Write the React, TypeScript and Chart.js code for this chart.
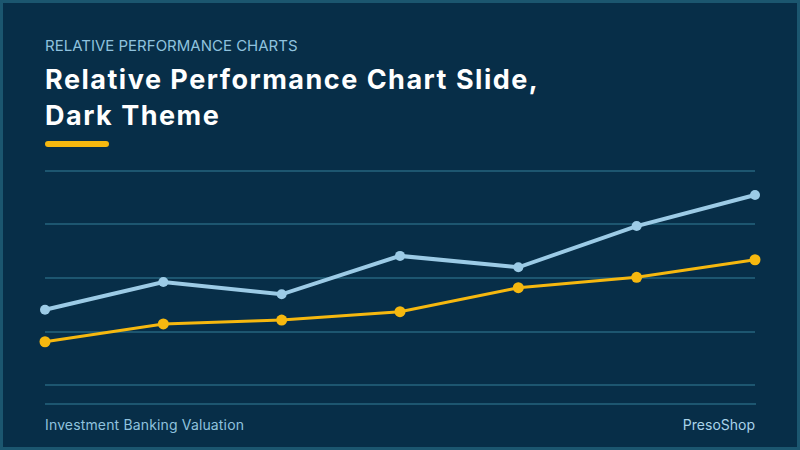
import React, { useEffect, useRef } from "react";
import { Chart, registerables } from "chart.js";

Chart.register(...registerables);

const categories = ["P1", "P2", "P3", "P4", "P5", "P6", "P7"];
const seriesA = [35.2, 48.1, 42.4, 60.3, 55.0, 74.2, 88.7];
const seriesB = [20.3, 28.6, 30.4, 34.3, 45.5, 50.3, 58.5];
const yTicks = [0, 25, 50, 75, 100];

const BG = "#072e48";
const BORDER = "#1b566f";
const GRID = "#1d5670";
const BLUE = "#9ccbe6";
const YELLOW = "#f6b80f";
const FONT = "Inter, 'Open Sans', sans-serif";

export default function App() {
  const ref = useRef<HTMLCanvasElement>(null);
  useEffect(() => {
    if (!ref.current) return;
    const chart = new Chart(ref.current, {
      type: "line",
      data: {
        labels: categories,
        datasets: [
          {
            data: seriesA,
            borderColor: BLUE,
            backgroundColor: BLUE,
            borderWidth: 4,
            pointRadius: 5,
            pointBorderWidth: 0,
            pointHoverRadius: 5,
            tension: 0,
            clip: false as any,
          },
          {
            data: seriesB,
            borderColor: YELLOW,
            backgroundColor: YELLOW,
            borderWidth: 3,
            pointRadius: 5.5,
            pointBorderWidth: 0,
            tension: 0,
            clip: false as any,
          },
        ],
      },
      options: {
        responsive: false,
        animation: false,
        maintainAspectRatio: false,
        layout: { padding: { left: 8, right: 8, top: 10.7, bottom: 14.7 } },
        plugins: { legend: { display: false }, tooltip: { enabled: false } },
        scales: {
          x: { display: false, offset: false },
          y: {
            min: yTicks[0],
            max: yTicks[yTicks.length - 1],
            afterBuildTicks: (axis: any) => {
              axis.ticks = yTicks.map((v) => ({ value: v }));
            },
            ticks: { display: false },
            border: { display: false },
            grid: { color: GRID, lineWidth: 2, drawTicks: false },
          },
        },
      },
    });
    return () => chart.destroy();
  }, []);

  return (
    <div
      style={{
        position: "absolute",
        left: 0,
        top: 0,
        width: 800,
        height: 450,
        background: BG,
        boxSizing: "border-box",
        border: `3px solid ${BORDER}`,
        fontFamily: FONT,
        overflow: "hidden",
      }}
    >
      <div
        style={{
          position: "absolute",
          left: 42,
          top: 33,
          fontSize: 15,
          color: "#8fc2de",
          letterSpacing: 0,
          whiteSpace: "nowrap",
        }}
      >
        RELATIVE PERFORMANCE CHARTS
      </div>
      <div
        style={{
          position: "absolute",
          left: 42,
          top: 59,
          fontSize: 27,
          fontWeight: 700,
          letterSpacing: 1.5,
          lineHeight: "36px",
          color: "#ffffff",
          whiteSpace: "nowrap",
        }}
      >
        Relative Performance Chart Slide,
        <br />
        Dark Theme
      </div>
      <div
        style={{
          position: "absolute",
          left: 42,
          top: 138,
          width: 64,
          height: 6,
          borderRadius: 3,
          background: YELLOW,
        }}
      />
      <canvas
        ref={ref}
        width={726}
        height={240}
        style={{ position: "absolute", left: 34, top: 157, width: 726, height: 240 }}
      />
      <div
        style={{
          position: "absolute",
          left: 42,
          top: 400,
          width: 711,
          height: 2,
          background: GRID,
        }}
      />
      <div
        style={{
          position: "absolute",
          left: 42,
          top: 413,
          fontSize: 14,
          letterSpacing: 0.15,
          color: "#8fc2de",
          whiteSpace: "nowrap",
        }}
      >
        Investment Banking Valuation
      </div>
      <div
        style={{
          position: "absolute",
          right: 42,
          top: 413,
          fontSize: 14,
          color: "#a9d3ea",
          whiteSpace: "nowrap",
        }}
      >
        PresoShop
      </div>
    </div>
  );
}
